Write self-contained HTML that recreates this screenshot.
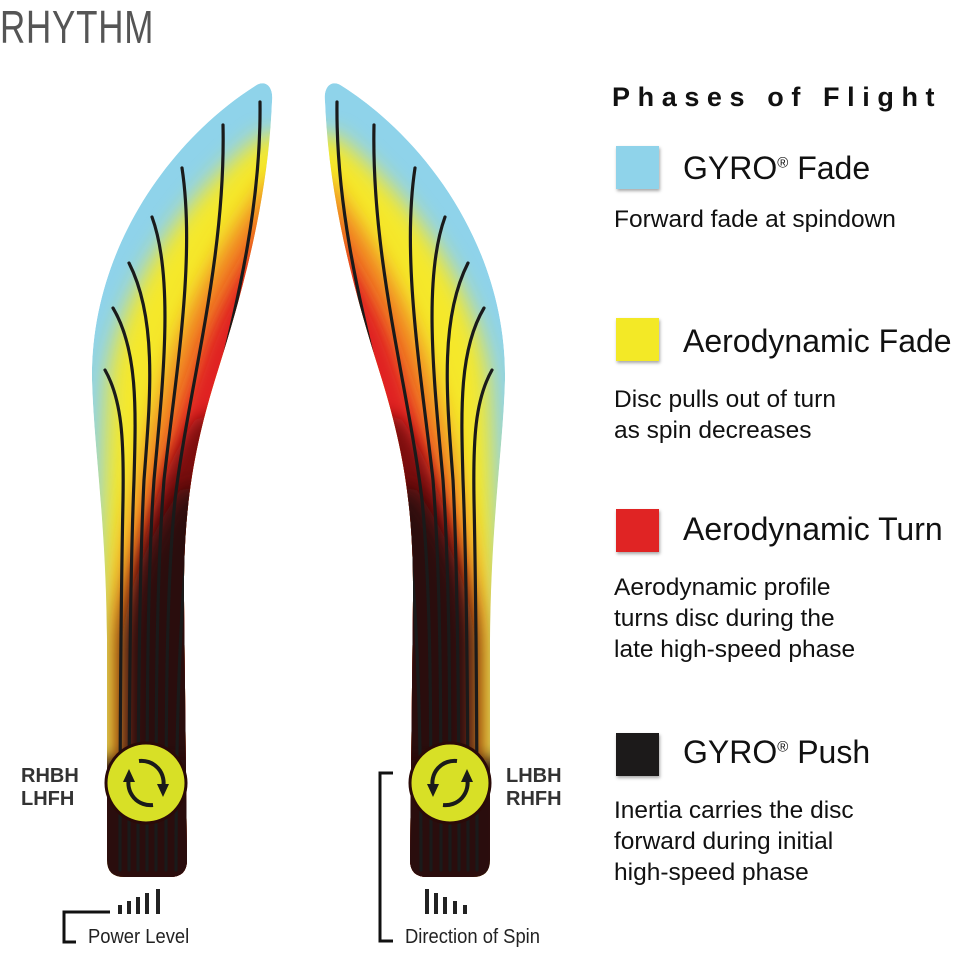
<!DOCTYPE html>
<html><head><meta charset="utf-8"><style>
html,body{margin:0;padding:0;background:#fff;}
body{width:967px;height:956px;position:relative;overflow:hidden;font-family:"Liberation Sans",sans-serif;}
.t{position:absolute;white-space:nowrap;color:#111;}
.sq{position:absolute;width:43px;height:43px;box-shadow:1px 2px 3px rgba(0,0,0,.35);left:616px;}
.h{position:absolute;left:683px;font-size:32px;color:#111;white-space:nowrap;}
.d{position:absolute;left:614px;font-size:24.5px;line-height:31px;color:#111;white-space:nowrap;}
</style></head><body>
<div class="t" style="left:0;top:0px;font-size:46px;color:#555;transform:scaleX(.76);transform-origin:0 0;letter-spacing:1px;">RHYTHM</div>

<svg width="967" height="956" style="position:absolute;left:0;top:0">
<defs>
<path id="shp" d="M107,860 L107,640 C106,520 94,450 92,380 C90,250 170,140 255,86 C265,79 274,86 272,102 C268,200 243,290 218,370 C196,440 183,500 184,600 L187,860 Q187,877 170,877 L124,877 Q107,877 107,860 Z"/>
<clipPath id="cp"><use href="#shp"/></clipPath>
<filter id="bl" x="-50%" y="-50%" width="200%" height="200%"><feGaussianBlur stdDeviation="11"/></filter>
<filter id="bl2" x="-50%" y="-50%" width="200%" height="200%"><feGaussianBlur stdDeviation="8"/></filter>
<g id="wing">
 <g clip-path="url(#cp)">
  <use href="#shp" fill="#8fd3ea"/>
  <path filter="url(#bl)" fill="#f5e82a" d="M100,900 L100,640 C102,520 104,440 108,380 C118,290 190,190 262,135 L300,135 L300,900 Z"/>
  <path filter="url(#bl)" fill="#f07a22" d="M114,900 L114,620 C125,520 150,420 175,350 C200,280 240,220 270,180 L310,180 L310,900 Z"/>
  <path filter="url(#bl2)" fill="#e02424" d="M135,900 L135,600 C145,520 175,430 200,360 C220,300 255,250 272,220 L310,220 L310,900 Z"/>
  <path filter="url(#bl2)" fill="#7a1010" d="M140,900 L140,570 C150,500 175,450 195,420 L310,380 L310,900 Z"/>
  <path filter="url(#bl)" fill="#2a0a08" d="M122,920 L122,640 C130,570 160,520 180,490 L310,470 L310,920 Z"/>
  <rect x="90" y="760" width="120" height="130" fill="#2a0a08" filter="url(#bl2)"/>
  <g fill="none" stroke="#1a1a1a" stroke-width="3.2" stroke-linecap="round">
   <path d="M260,102 C262,260 205,400 190,520 C180,600 176,720 176,870"/>
   <path d="M223,125 C226,260 188,390 175,500 C166,590 166,720 166,870"/>
   <path d="M182,168 C196,260 175,380 164,480 C156,580 156,720 156,870"/>
   <path d="M152,217 C175,280 162,390 154,480 C147,580 147,720 147,870"/>
   <path d="M129,263 C158,320 150,400 144,480 C139,580 138,720 138,870"/>
   <path d="M113,308 C138,350 136,410 134,480 C130,580 129,720 129,870"/>
   <path d="M105,370 C122,400 124,440 123,500 C121,600 120,720 120,870"/>
  </g>
 </g>
</g>
</defs>
<use href="#wing"/>
<g transform="translate(597,0) scale(-1,1)"><use href="#wing"/></g>

<g>
 <circle cx="146" cy="783" r="40" fill="#d8e026" stroke="#2a0a08" stroke-width="3"/>
 <path d="M139,761 A22,22 0 0 1 163,788" fill="none" stroke="#1a1a1a" stroke-width="4"/>
 <path d="M157,784 L163,797 L169,784 Z" fill="#1a1a1a"/>
 <path d="M153,805 A22,22 0 0 1 129,778" fill="none" stroke="#1a1a1a" stroke-width="4"/>
 <path d="M123,782 L129,769 L135,782 Z" fill="#1a1a1a"/>
</g>
<g>
 <circle cx="450" cy="783" r="40" fill="#d8e026" stroke="#2a0a08" stroke-width="3"/>
 <path d="M457,761 A22,22 0 0 0 433,788" fill="none" stroke="#1a1a1a" stroke-width="4"/>
 <path d="M427,784 L433,797 L439,784 Z" fill="#1a1a1a"/>
 <path d="M443,805 A22,22 0 0 0 467,778" fill="none" stroke="#1a1a1a" stroke-width="4"/>
 <path d="M461,782 L467,769 L473,782 Z" fill="#1a1a1a"/>
</g>

<path d="M110,912 L64,912 L64,942 L76,942" fill="none" stroke="#111" stroke-width="3"/>
<path d="M393,773 L380,773 L380,941 L393,941" fill="none" stroke="#111" stroke-width="3"/>
<g fill="#222">
 <rect x="118" y="905" width="4" height="9"/><rect x="127" y="901" width="4" height="13"/>
 <rect x="136" y="897" width="4" height="17"/><rect x="145" y="893" width="4" height="21"/>
 <rect x="156" y="889" width="4" height="25"/>
 <rect x="425" y="889" width="4" height="25"/><rect x="434" y="893" width="4" height="21"/>
 <rect x="443" y="897" width="4" height="17"/><rect x="453" y="901" width="4" height="13"/>
 <rect x="463" y="905" width="4" height="9"/>
</g>
</svg>

<div class="t" style="left:21px;top:765px;font-size:20px;font-weight:bold;color:#333;line-height:23px;">RHBH<br>LHFH</div>
<div class="t" style="left:506px;top:765px;font-size:20px;font-weight:bold;color:#333;line-height:23px;">LHBH<br>RHFH</div>
<div class="t" style="left:88px;top:926px;font-size:20px;color:#222;transform:scaleX(.92);transform-origin:0 0;">Power Level</div>
<div class="t" style="left:405px;top:926px;font-size:20px;color:#222;transform:scaleX(.92);transform-origin:0 0;">Direction of Spin</div>

<div class="t" style="left:612px;top:82px;font-size:27px;font-weight:bold;letter-spacing:7.6px;">Phases of Flight</div>

<div class="sq" style="top:146px;background:#8fd3ea"></div>
<div class="h" style="top:150px;">GYRO<sup style="font-size:15px;">®</sup> Fade</div>
<div class="d" style="top:204px;">Forward fade at spindown</div>

<div class="sq" style="top:318px;background:#f3e926"></div>
<div class="h" style="top:323px;">Aerodynamic Fade</div>
<div class="d" style="top:384px;">Disc pulls out of turn<br>as spin decreases</div>

<div class="sq" style="top:509px;background:#e02424"></div>
<div class="h" style="top:511px;">Aerodynamic Turn</div>
<div class="d" style="top:572px;">Aerodynamic profile<br>turns disc during the<br>late high-speed phase</div>

<div class="sq" style="top:733px;background:#1c1a1a"></div>
<div class="h" style="top:734px;">GYRO<sup style="font-size:15px;">®</sup> Push</div>
<div class="d" style="top:795px;">Inertia carries the disc<br>forward during initial<br>high-speed phase</div>
</body></html>
